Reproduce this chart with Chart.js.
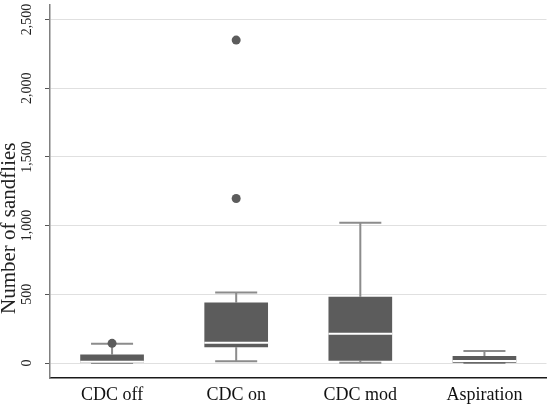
<!DOCTYPE html>
<html>
<head>
<meta charset="UTF-8">
<title>Number of sandflies by collection method</title>
<script src="https://cdn.jsdelivr.net/npm/chart.js"></script>
<style>
  html, body { margin: 0; padding: 0; background: #fff; }
  #wrap { width: 551px; height: 412px; }
</style>
</head>
<body>
<div id="wrap"><canvas id="chart"></canvas></div>
<script>
const categories = ['CDC off', 'CDC on', 'CDC mod', 'Aspiration'];
const whiskerLow = [0, 12, 2, 0];
const q1 = [2, 114, 17, 2];
const median = [10, 148, 213, 14];
const q3 = [62, 441, 482, 51];
const whiskerHigh = [140, 514, 1020, 87];
const outlierCats = ['CDC off', 'CDC on', 'CDC on'];
const outlierValues = [143, 1197, 2350];
const yTicks = [0, 500, 1000, 1500, 2000, 2500];
const yTitle = 'Number of sandflies';

const serif = "'Liberation Serif', 'Times New Roman', serif";

// whiskers go under the boxes, medians on top
const boxParts = {
  id: 'boxParts',
  beforeDatasetsDraw(chart) {
    const { ctx, scales: { x, y } } = chart;
    const bars = chart.getDatasetMeta(0).data;
    ctx.save();
    ctx.strokeStyle = '#8c8c8c';
    ctx.lineWidth = 2;
    categories.forEach((c, i) => {
      const cx = x.getPixelForValue(i);
      const half = bars[i].width * 0.33;
      const yLo = y.getPixelForValue(whiskerLow[i]);
      const yHi = y.getPixelForValue(whiskerHigh[i]);
      ctx.beginPath();
      ctx.moveTo(cx, y.getPixelForValue(q3[i]));
      ctx.lineTo(cx, yHi);
      ctx.moveTo(cx - half, yHi);
      ctx.lineTo(cx + half, yHi);
      ctx.moveTo(cx, y.getPixelForValue(q1[i]));
      ctx.lineTo(cx, yLo);
      ctx.moveTo(cx - half, yLo);
      ctx.lineTo(cx + half, yLo);
      ctx.stroke();
    });
    ctx.restore();
  },
  afterDatasetsDraw(chart) {
    const { ctx, scales: { x, y } } = chart;
    const bars = chart.getDatasetMeta(0).data;
    ctx.save();
    ctx.strokeStyle = '#ffffff';
    ctx.lineWidth = 2;
    categories.forEach((c, i) => {
      const cx = x.getPixelForValue(i);
      const half = bars[i].width / 2;
      const my = y.getPixelForValue(median[i]);
      ctx.beginPath();
      ctx.moveTo(cx - half, my);
      ctx.lineTo(cx + half, my);
      ctx.stroke();
    });
    ctx.restore();
  },
  afterDraw(chart) {
    const { ctx, chartArea } = chart;
    ctx.save();
    ctx.font = '21px ' + serif;
    ctx.fillStyle = '#222';
    ctx.textAlign = 'center';
    ctx.textBaseline = 'alphabetic';
    ctx.translate(15, (chartArea.top + chartArea.bottom) / 2 + 37);
    ctx.rotate(-Math.PI / 2);
    ctx.fillText(yTitle, 0, 0);
    ctx.restore();
  }
};

new Chart(document.getElementById('chart'), {
  type: 'bar',
  data: {
    labels: categories,
    datasets: [
      {
        data: categories.map((c, i) => [q1[i], q3[i]]),
        backgroundColor: '#5c5c5c',
        borderWidth: 0,
        barPercentage: 0.513,
        categoryPercentage: 1
      },
      {
        type: 'line',
        data: outlierCats.map((c, i) => ({ x: c, y: outlierValues[i] })),
        showLine: false,
        pointRadius: 4.5,
        pointBackgroundColor: '#5c5c5c',
        pointBorderWidth: 0
      }
    ]
  },
  options: {
    animation: false,
    responsive: true,
    maintainAspectRatio: false,
    layout: { padding: { top: 4, right: 3, bottom: 0, left: 0 } },
    plugins: {
      legend: { display: false },
      tooltip: { enabled: false }
    },
    scales: {
      x: {
        type: 'category',
        offset: true,
        grid: { display: false, drawTicks: false },
        border: { display: true, color: '#1a1a1a', width: 1.5 },
        ticks: {
          font: { family: serif, size: 18 },
          color: '#111',
          padding: 6,
          maxRotation: 0
        },
        afterFit(s) {
          s.height = 34;
          s.paddingLeft = 0;
          s.paddingRight = 0;
        }
      },
      y: {
        min: -109,
        max: 2609,
        afterBuildTicks(s) { s.ticks = yTicks.map(v => ({ value: v })); },
        grid: { color: '#e0e0e0', lineWidth: 1, tickColor: '#555', tickLength: 5 },
        border: { color: '#808080', width: 1.5 },
        ticks: {
          minRotation: 90,
          maxRotation: 90,
          crossAlign: 'center',
          padding: 2,
          font: { family: serif, size: 14 },
          color: '#222',
          callback: v => v.toLocaleString('en-US')
        },
        afterFit(s) {
          s.width = 50;
          s.paddingTop = 0;
          s.paddingBottom = 0;
        }
      }
    }
  },
  plugins: [boxParts]
});
</script>
</body>
</html>
